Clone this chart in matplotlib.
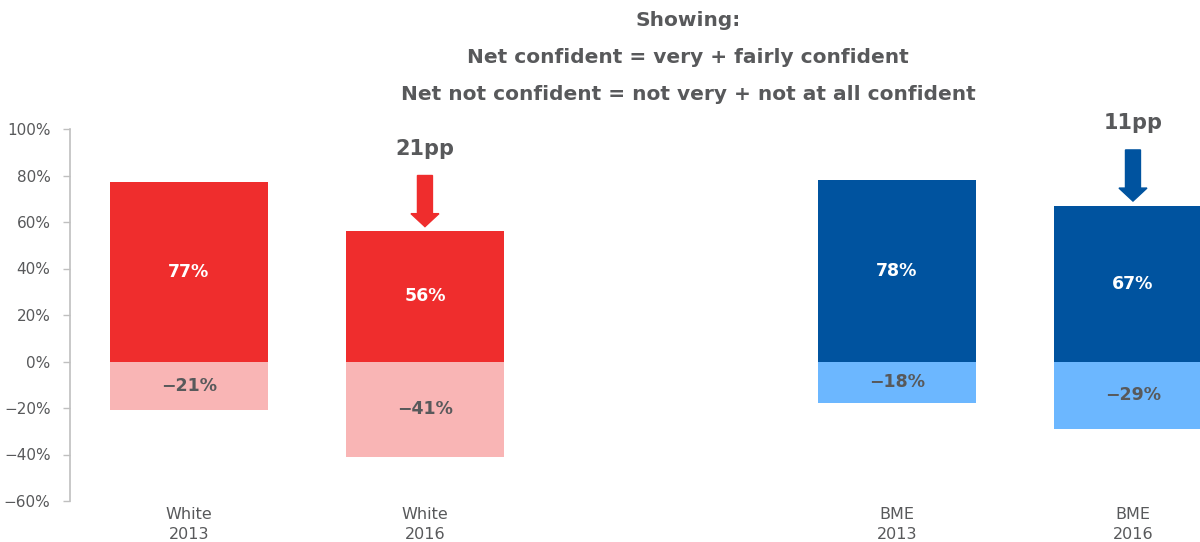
import matplotlib.pyplot as plt

# datos
grupos = ["White\n2013", "White\n2016", "BME\n2013", "BME\n2016"]
posiciones = [0, 1, 3, 4]
confiado = [77, 56, 78, 67]
no_confiado = [-21, -41, -18, -29]
colores_pos = ["#EF2D2D", "#EF2D2D", "#00539F", "#00539F"]
colores_neg = ["#F9B5B5", "#F9B5B5", "#6CB7FF", "#6CB7FF"]
# caidas: (indice 2013, indice 2016)
caidas = [(0, 1), (2, 3)]

gris = "#58595B"
plt.rcParams['font.family'] = ['DejaVu Sans']

fig = plt.figure(figsize=(12, 5.42), dpi=100)
ax = fig.add_axes([70 / 1200, 41 / 542, 1 - 70 / 1200, 372 / 542])

ancho = 0.67
ax.bar(posiciones, confiado, width=ancho, color=colores_pos, zorder=2)
ax.bar(posiciones, no_confiado, width=ancho, color=colores_neg, zorder=2)

for x, v in zip(posiciones, confiado):
    ax.text(x, v / 2, f"{v}%", ha='center', va='center', color='white',
            fontsize=12.5, fontweight='bold')
for x, v in zip(posiciones, no_confiado):
    ax.text(x, v / 2, f"\u2212{abs(v)}%", ha='center', va='center', color=gris,
            fontsize=12.5, fontweight='bold')

# flechas de caida
for i0, i1 in caidas:
    x = posiciones[i1]
    v = confiado[i1]
    pp = confiado[i0] - confiado[i1]
    ax.arrow(x, v + 24, 0, -22, width=15 / 236, head_width=28 / 236,
             head_length=13 / 2.325, length_includes_head=True,
             color=colores_pos[i1], zorder=3, clip_on=False)
    ax.text(x, v + 35.5, f"{pp}pp", ha='center', va='center', color=gris,
            fontsize=15, fontweight='bold', clip_on=False)

ax.set_xlim(-0.504, 4.284)
ax.set_ylim(-60, 100)
ax.set_yticks(range(-60, 101, 20))
ax.set_yticklabels([f"{t}%".replace("-", "\u2212") for t in range(-60, 101, 20)])
ax.set_xticks(posiciones)
ax.set_xticklabels(grupos, linespacing=1.45)

for s in ['top', 'right', 'bottom']:
    ax.spines[s].set_visible(False)
ax.spines['left'].set_color('#BFBFBF')
ax.spines['left'].set_linewidth(1.2)
ax.tick_params(axis='y', colors='#BFBFBF', labelcolor=gris, labelsize=11,
               length=5, width=1, pad=9)
ax.tick_params(axis='x', length=0, labelcolor=gris, labelsize=11.5, pad=4)

titulo = ["Showing:",
          "Net confident = very + fairly confident",
          "Net not confident = not very + not at all confident"]
for k, linea in enumerate(titulo):
    fig.text(688 / 1200, 1 - (20 + 37.5 * k) / 542, linea, ha='center', va='center',
             color=gris, fontsize=14.5, fontweight='bold')

fig.savefig("out.png", dpi=100)
